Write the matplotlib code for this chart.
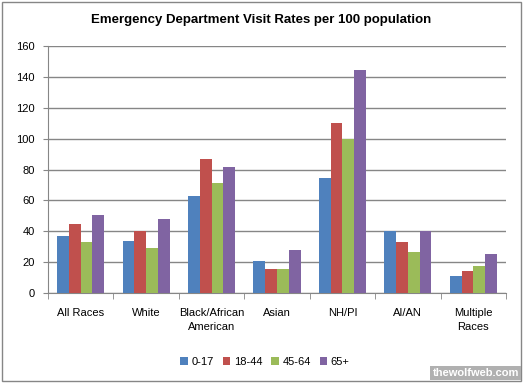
import numpy as np
import matplotlib.pyplot as plt
from matplotlib.patches import Rectangle

plt.rcParams['font.family'] = ['Liberation Sans', 'DejaVu Sans']

# Data
categories = ['All Races', 'White', 'Black/African\nAmerican', 'Asian', 'NH/PI', 'AI/AN', 'Multiple\nRaces']
groups = ['0-17', '18-44', '45-64', '65+']
age_0_17 = [37, 33.5, 63, 20.5, 74.5, 40, 11]
age_18_44 = [45, 40, 87, 15.5, 110, 33, 14.5]
age_45_64 = [33, 29, 71, 15.5, 99.5, 26.5, 17.5]
age_65_plus = [50.5, 48, 81.5, 28, 144.5, 40, 25]
series = [age_0_17, age_18_44, age_45_64, age_65_plus]
colors = ['#4F81BD', '#C0504D', '#9BBB59', '#8064A2']

fig = plt.figure(figsize=(5.23, 3.83), dpi=100)
ax = fig.add_axes([48 / 523, 1 - 293 / 383, 458 / 523, 247 / 383])

x = np.arange(len(categories))
w = 0.18
for i, (vals, c) in enumerate(zip(series, colors)):
    ax.bar(x + (i - 1.5) * w, vals, w, color=c, label=groups[i], zorder=3)

ax.set_xlim(-0.5, len(categories) - 0.5)
ax.set_ylim(0, 160)
ax.set_yticks(range(0, 161, 20))
ax.yaxis.grid(True, color='#868686', linewidth=1, zorder=0)
ax.set_xticks(x)
ax.set_xticklabels(categories, fontsize=8, linespacing=1.5)
ax.set_xticks(np.arange(-0.5, len(categories)), minor=True)
ax.tick_params(axis='x', which='major', length=0, pad=11)
ax.tick_params(axis='x', which='minor', length=4, color='#868686', direction='out')
ax.tick_params(axis='y', labelsize=8, length=3.5, color='#868686', pad=6)
for s in ['top', 'right']:
    ax.spines[s].set_visible(False)
for s in ['left', 'bottom']:
    ax.spines[s].set_color('#868686')

fig.text(0.5, 1 - 20 / 383, 'Emergency Department Visit Rates per 100 population',
         ha='center', va='center', fontsize=9.5, fontweight='bold')

fig.legend(loc='center', bbox_to_anchor=(265 / 523, 1 - 362 / 383), ncol=4, fontsize=8,
           frameon=False, handlelength=0.7, handleheight=0.7, handletextpad=0.3,
           columnspacing=0.8)

# chart border
fig.patches.append(Rectangle((2 / 523, 2 / 383), 519 / 523, 379 / 383, transform=fig.transFigure,
                             fill=False, edgecolor='#868686', linewidth=1))

# watermark
fig.text(1 - 4 / 523, 5 / 383, 'thewolfweb.com', ha='right', va='bottom', fontsize=8,
         fontweight='bold', color='white',
         bbox=dict(facecolor='#b0b0b0', edgecolor='none', pad=1.5))

fig.savefig('out.png', dpi=100)
